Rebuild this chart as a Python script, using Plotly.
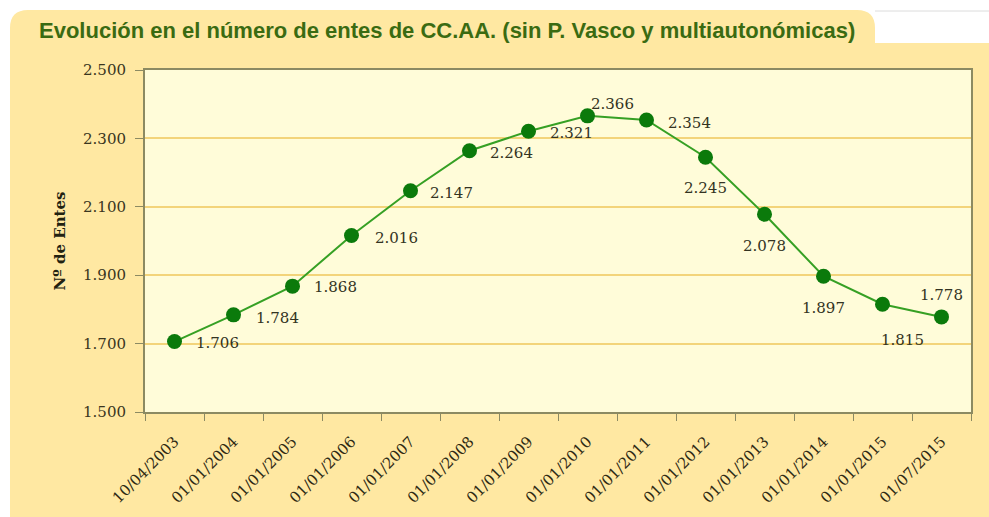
import plotly.graph_objects as go

# ---- data ----
fechas = ["10/04/2003", "01/01/2004", "01/01/2005", "01/01/2006", "01/01/2007",
          "01/01/2008", "01/01/2009", "01/01/2010", "01/01/2011", "01/01/2012",
          "01/01/2013", "01/01/2014", "01/01/2015", "01/07/2015"]
entes = [1706, 1784, 1868, 2016, 2147, 2264, 2321, 2366, 2354, 2245, 2078, 1897, 1815, 1778]
y_ticks = [1500, 1700, 1900, 2100, 2300, 2500]

titulo = "Evolución en el número de entes de CC.AA. (sin P. Vasco y multiautonómicas)"
eje_y = "Nº de Entes"

# label offsets (pixels) relative to each point: (dx, dy) with dy positive = up
label_offsets = [(43, -1), (44, -3), (43, -1), (45, -2), (41, -2), (42, -2), (43, -2),
                 (25, 12), (43, -3), (0, -31), (0, -32), (0, -32), (20, -36), (0, 22)]

W, H = 989, 517
L, R, T, B = 145, 18, 70, 105
pw, ph = W - L - R, H - T - B


def px(x):
    return (x - L) / pw


def py(y):
    return (H - B - y) / ph


panel_bg = "#FFE8A2"
plot_bg = "#FFFCD9"
grid_c = "#F3D47A"
axis_c = "#8C8A62"
text_c = "#3A3520"

fig = go.Figure()
fig.add_trace(go.Scatter(
    x=fechas, y=entes, mode="lines+markers",
    line=dict(color="#36A024", width=2),
    marker=dict(color="#0B7A0B", size=15),
    hoverinfo="skip", showlegend=False, cliponaxis=False,
))

for f, v, (dx, dy) in zip(fechas, entes, label_offsets):
    fig.add_annotation(x=f, y=v, text=f"{v:,}".replace(",", "."), showarrow=False,
                       xshift=dx, yshift=dy, xanchor="center", yanchor="middle",
                       font=dict(family="DejaVu Serif", size=15, color="#333322"))

# panel with title tab (rounded corners)
r = 18
tab_right = 875
body_top = 43
top = 10
left = 10
path = (f"M {px(left)},{py(H + 20)} "
        f"L {px(left)},{py(top + r)} "
        f"Q {px(left)},{py(top)} {px(left + r)},{py(top)} "
        f"L {px(tab_right - r)},{py(top)} "
        f"Q {px(tab_right)},{py(top)} {px(tab_right)},{py(top + r)} "
        f"L {px(tab_right)},{py(body_top)} "
        f"L {px(W + 20)},{py(body_top)} "
        f"L {px(W + 20)},{py(H + 20)} Z")
fig.add_shape(type="path", xref="paper", yref="paper", path=path,
              fillcolor=panel_bg, line=dict(width=0), layer="below")
fig.add_shape(type="rect", xref="paper", yref="paper", x0=0, x1=1, y0=0, y1=1,
              fillcolor=plot_bg, line=dict(width=0), layer="below")
fig.add_shape(type="line", xref="paper", yref="paper",
              x0=px(tab_right), x1=px(W), y0=py(11), y1=py(11),
              line=dict(color="#DCDCDC", width=1), layer="below")

fig.add_annotation(xref="paper", yref="paper", x=px(37), y=py(30), text=f"<b>{titulo}</b>",
                   showarrow=False, xanchor="left", yanchor="middle",
                   font=dict(family="Liberation Sans", size=22, color="#3A6B12"))

fig.update_layout(
    width=W, height=H,
    margin=dict(l=L, r=R, t=T, b=B, pad=0, autoexpand=False),
    paper_bgcolor="white",
    plot_bgcolor=plot_bg,
    separators=",.",
    xaxis=dict(
        type="category", tickson="boundaries", tickangle=-45, automargin=False,
        showgrid=False, showline=True, linecolor=axis_c, linewidth=2, mirror=True,
        ticks="outside", ticklen=7, tickcolor=axis_c, tickwidth=1,
        ticklabelstandoff=13,
        tickfont=dict(family="DejaVu Serif", size=15, color="#2E2A14"),
        range=[-0.5, len(fechas) - 0.5], zeroline=False,
    ),
    yaxis=dict(
        range=[1500, 2500], tickvals=y_ticks, tickformat=",d", automargin=False,
        showgrid=True, gridcolor=grid_c, gridwidth=2,
        showline=True, linecolor=axis_c, linewidth=2, mirror=True,
        ticks="outside", ticklen=8, tickcolor=axis_c, tickwidth=1,
        ticklabelstandoff=6,
        tickfont=dict(family="DejaVu Serif", size=15, color=text_c),
        title=dict(text=f"<b>{eje_y}</b>", standoff=14,
                   font=dict(family="DejaVu Serif", size=15, color="#222211")),
        zeroline=False,
    ),
)

fig.write_html("out.html")
